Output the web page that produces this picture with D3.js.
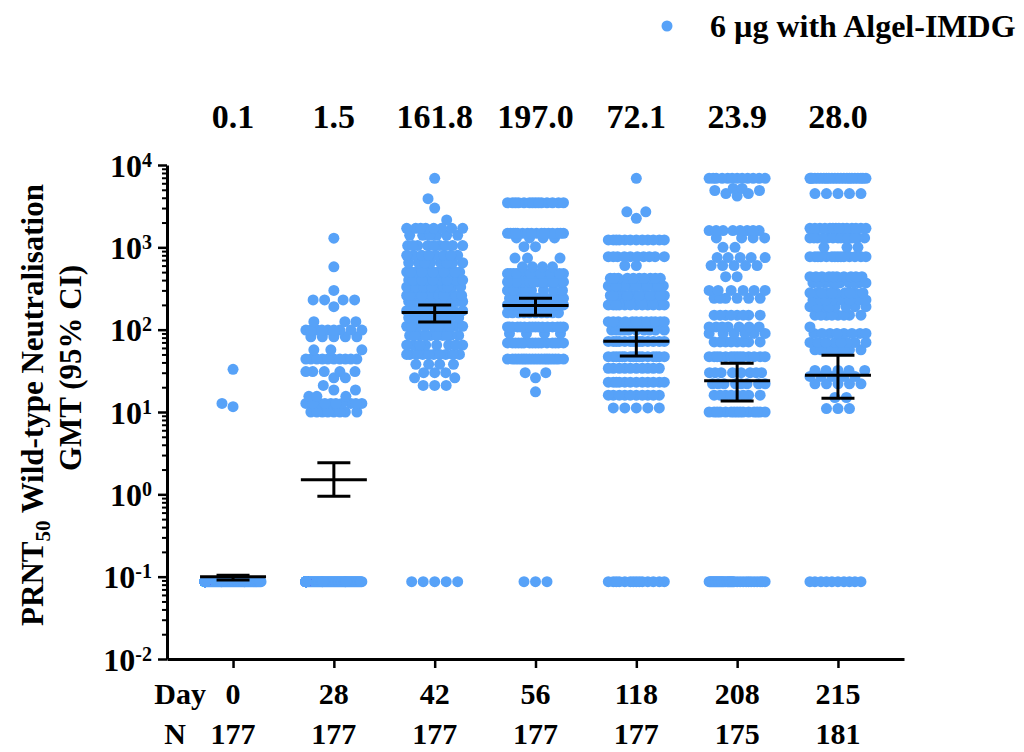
<!DOCTYPE html>
<html>
<head>
<meta charset="utf-8">
<script src="https://cdn.jsdelivr.net/npm/d3@7"></script>
<style>
  body { margin: 0; background: #fff; }
  svg { font-family: "Liberation Serif", "Times New Roman", serif; font-weight: bold; }
  .axis .domain { stroke: #000; stroke-width: 3; }
  .axis .tick line { stroke: #000; stroke-width: 2.5; }
  .minor .tick line { stroke-width: 2; }
</style>
</head>
<body>
<svg id="chart"></svg>
<script>
const days = ["0", "28", "42", "56", "118", "208", "215"];
const nValues = [177, 177, 177, 177, 177, 175, 181];
const gmtValues = [0.1, 1.5, 161.8, 197.0, 72.1, 23.9, 28.0];
const ciLower = [0.091, 0.95, 124, 150, 48, 13.6, 14.7];
const ciUpper = [0.104, 2.42, 200, 240, 99, 39, 49];
const majorTicks = [1e-2, 1e-1, 1, 10, 100, 1000, 10000];
const tickExponents = ["-2", "-1", "0", "1", "2", "3", "4"];

// titers as [value, count]
const day0Titers = [[0.087, 174], [11.6, 1], [12.7, 1], [33, 1]];
const day28Titers = [[0.087, 108], [10, 8], [12.7, 10], [15.5, 3], [18.5, 2], [21, 1], [26, 2], [31, 5],
  [44, 10], [57, 3], [82, 5], [99, 9], [125, 3], [190, 1], [230, 4], [300, 1], [580, 1], [1290, 1]];
const day42Titers = [[0.087, 5], [21, 3], [26, 2], [30, 3], [38, 4], [50, 10], [65, 8], [85, 10], [110, 10],
  [140, 10], [170, 12], [220, 12], [260, 12], [330, 12], [400, 10], [500, 11], [650, 8], [800, 8],
  [1050, 9], [1400, 6], [1700, 8], [2150, 1], [3000, 1], [3900, 1], [6900, 1]];
const day56Titers = [[0.087, 3], [17.6, 1], [26, 1], [30, 2], [44, 19], [69, 16], [90, 4], [108, 16],
  [160, 10], [200, 14], [240, 14], [300, 8], [380, 12], [480, 14], [580, 4], [740, 3], [1020, 2],
  [1300, 4], [1480, 16], [3480, 14]];
const day118Titers = [[0.087, 14], [11.2, 5], [16, 10], [23, 12], [34, 10], [47, 16], [72, 14], [99, 10],
  [125, 12], [200, 12], [260, 12], [340, 12], [420, 10], [600, 2], [770, 10], [1230, 12], [2250, 1],
  [2700, 2], [6900, 1]];
const day208Titers = [[0.087, 36], [10, 15], [16, 8], [22, 8], [30, 8], [47, 14], [71, 8], [90, 6],
  [108, 7], [150, 8], [240, 6], [300, 6], [440, 2], [600, 5], [750, 5], [1000, 2], [1300, 4], [1600, 8],
  [4200, 1], [4500, 2], [4900, 2], [5200, 2], [6900, 12]];
const day215Titers = [[0.087, 10], [11, 3], [15, 2], [22, 5], [27, 5], [32, 5], [57, 8], [70, 8], [90, 8],
  [108, 1], [150, 8], [190, 8], [230, 8], [280, 10], [370, 10], [440, 10], [770, 14], [1000, 3],
  [1300, 14], [1700, 14], [4500, 5], [6900, 22]];
const titersByDay = [day0Titers, day28Titers, day42Titers, day56Titers, day118Titers, day208Titers, day215Titers];

const chartSize = { width: 1024, height: 752 };
const plot = { left: 167, right: 904, top: 165, bottom: 659 };
const dotColor = "#57a2f8";
const dotRadius = 5.5;
const sep = 11.5;
const maxHalf = 28;

const x = d3.scalePoint().domain(days).range([plot.left, plot.right]).padding(0.655);
const y = d3.scaleLog().domain([0.01, 10000]).range([plot.bottom, plot.top]);

const svg = d3.select("#chart")
  .attr("width", chartSize.width)
  .attr("height", chartSize.height);

function _flatten(pairs) {
  const out = [];
  pairs.forEach(([v, n]) => { for (let i = 0; i < n; i++) out.push(v); });
  return out;
}

// simple beeswarm, width capped like the prism columns
const swarm = pairs => {
  const values = _flatten(pairs).sort((a, b) => a - b);
  const placed = [];
  values.forEach(v => {
    const py = y(v);
    const near = placed.filter(p => Math.abs(p.y - py) < sep);
    let cands = [0];
    near.forEach(p => {
      const dx = Math.sqrt(sep * sep - (p.y - py) ** 2);
      cands.push(p.x - dx, p.x + dx);
    });
    cands = cands
      .filter(c => Math.abs(c) <= maxHalf + 1e-6)
      .sort((a, b) => Math.abs(a) - Math.abs(b) || a - b);
    const free = c => near.every(p => (p.x - c) ** 2 + (p.y - py) ** 2 >= sep * sep - 1e-6);
    let px = cands.find(free);
    if (px === undefined) {
      let best = -1;
      for (let g = -maxHalf; g <= maxHalf; g += 1) {
        const m = d3.min(near, p => (p.x - g) ** 2 + (p.y - py) ** 2);
        if (m > best) { best = m; px = g; }
      }
    }
    placed.push({ x: px, y: py, v });
  });
  return placed;
};

// axes
const minorTicks = [];
majorTicks.slice(0, -1).forEach(m => { for (let k = 2; k <= 9; k++) minorTicks.push(m * k); });

svg.append("g")
  .attr("class", "axis minor")
  .attr("transform", `translate(${plot.left},0)`)
  .call(d3.axisLeft(y).tickValues(minorTicks).tickSize(5).tickSizeOuter(0).tickFormat(""))
  .select(".domain").remove();

const yAxis = svg.append("g")
  .attr("class", "axis")
  .attr("transform", `translate(${plot.left},0)`)
  .call(d3.axisLeft(y).tickValues(majorTicks).tickSize(9).tickSizeOuter(0).tickFormat(""))
  .attr("font-family", null)
  .attr("font-size", null);

yAxis.selectAll(".tick text").remove();
yAxis.selectAll(".tick").append("text")
  .attr("x", -15)
  .attr("y", 11)
  .attr("text-anchor", "end")
  .attr("fill", "#000")
  .style("font-size", "32px")
  .text("10")
  .append("tspan")
  .attr("dy", "-0.5em")
  .style("font-size", "20px")
  .text((d, i) => tickExponents[i]);

svg.append("g")
  .attr("class", "axis")
  .attr("transform", `translate(0,${plot.bottom})`)
  .call(d3.axisBottom(x).tickSize(9).tickSizeOuter(0).tickFormat(""));

// points
const groups = svg.append("g").attr("class", "points");
days.forEach((day, i) => {
  groups.append("g")
    .attr("transform", `translate(${x(day)},0)`)
    .selectAll("circle")
    .data(swarm(titersByDay[i]))
    .join("circle")
    .attr("cx", d => d.x)
    .attr("cy", d => d.y)
    .attr("r", dotRadius)
    .attr("fill", dotColor);
});

// gmt with 95% ci
const bars = svg.append("g").attr("class", "bars")
  .attr("stroke", "#000").attr("stroke-width", 3).attr("fill", "none");
days.forEach((day, i) => {
  const cx = x(day);
  const g = bars.append("g");
  g.append("line").attr("x1", cx - 33).attr("x2", cx + 33)
    .attr("y1", y(gmtValues[i])).attr("y2", y(gmtValues[i]));
  g.append("line").attr("x1", cx).attr("x2", cx)
    .attr("y1", y(ciLower[i])).attr("y2", y(ciUpper[i]));
  [ciLower[i], ciUpper[i]].forEach(c => {
    g.append("line").attr("x1", cx - 16.5).attr("x2", cx + 16.5)
      .attr("y1", y(c)).attr("y2", y(c));
  });
});

// labels
svg.append("g").selectAll("text")
  .data(gmtValues)
  .join("text")
  .attr("x", (d, i) => x(days[i]))
  .attr("y", 128)
  .attr("text-anchor", "middle")
  .style("font-size", "34px")
  .text(d => d.toFixed(1));

svg.append("g").selectAll("text")
  .data(days)
  .join("text")
  .attr("x", d => x(d))
  .attr("y", 704)
  .attr("text-anchor", "middle")
  .style("font-size", "30px")
  .text(d => d);

svg.append("g").selectAll("text")
  .data(nValues)
  .join("text")
  .attr("x", (d, i) => x(days[i]))
  .attr("y", 744)
  .attr("text-anchor", "middle")
  .style("font-size", "30px")
  .text(d => d);

svg.append("text").attr("x", 206).attr("y", 704).attr("text-anchor", "end")
  .style("font-size", "30px").text("Day");
svg.append("text").attr("x", 186).attr("y", 744).attr("text-anchor", "end")
  .style("font-size", "30px").text("N");

const yLabel = svg.append("g").attr("transform", "rotate(-90)");
const line1 = yLabel.append("text")
  .attr("x", -405).attr("y", 43)
  .attr("text-anchor", "middle")
  .style("font-size", "31px");
line1.append("tspan").text("PRNT");
line1.append("tspan").attr("dy", 7).style("font-size", "21px").text("50");
line1.append("tspan").attr("dy", -7).text(" Wild-type Neutralisation");
yLabel.append("text")
  .attr("x", -368).attr("y", 81)
  .attr("text-anchor", "middle")
  .style("font-size", "31px")
  .text("GMT  (95% CI)");

// legend
svg.append("circle").attr("cx", 667).attr("cy", 26).attr("r", dotRadius).attr("fill", dotColor);
svg.append("text").attr("x", 710).attr("y", 37)
  .style("font-size", "32px")
  .text("6 \u00b5g with Algel-IMDG");
</script>
</body>
</html>
